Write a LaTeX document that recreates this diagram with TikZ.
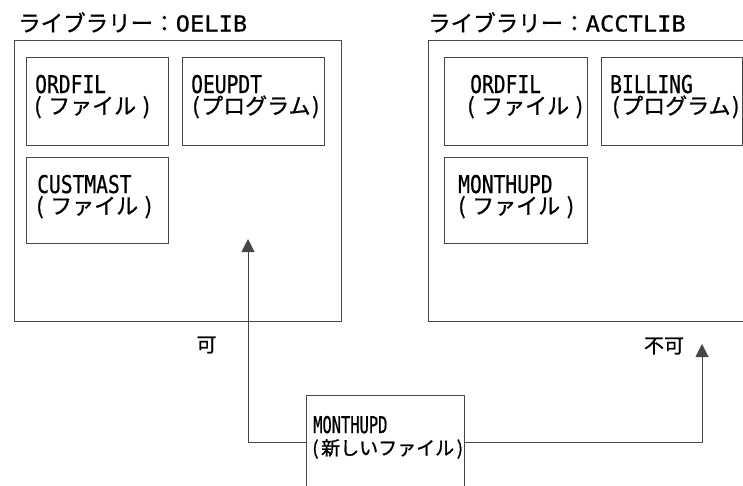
\documentclass[tikz,border=0pt]{standalone}
\usepackage{fontspec}
\usetikzlibrary{arrows.meta}
% Japanese text and narrow monospaced Latin faces
\newfontfamily\jpfont[FakeBold=1]{Noto Sans CJK JP}
\newfontfamily\boxlat[FakeStretch=0.8,FakeBold=0.6]{DejaVu Sans Mono}
\newfontfamily\botlat[FakeStretch=0.67,FakeBold=0.6]{DejaVu Sans Mono}
\newfontfamily\ttllat[FakeStretch=1.08,FakeBold=0.6]{DejaVu Sans Mono}
% parenthesised Japanese line: paren cells of width #1 around #2
\newcommand\kakko[2]{\makebox[#1][l]{(}#2\makebox[#1][r]{)}}
\newcommand\jpsz[1]{\jpfont\fontsize{#1}{#1}\selectfont}
\newcommand\latsz{\boxlat\fontsize{24.5pt}{26pt}\selectfont}
% two-line object label: first line #1, second line #4 set #3 lower and shifted by #2
\newcommand\twoline[4]{\rlap{\hspace{#2}\raisebox{-#3}[0pt][0pt]{#4}}#1}

\begin{document}
\begin{tikzpicture}[x=1pt,y=-1pt,
  frame/.style={draw=black!72, line width=1pt, anchor=north west,
    inner sep=0pt, outer sep=0pt},
  lbl/.style={anchor=base west, inner sep=0pt, text=black},
  conn/.style={draw=black!72, line width=1pt},
  tip/.style={-{Triangle[width=13pt,length=13pt]}}]
\useasboundingbox (0,0) rectangle (743,485);
\clip (0,0) rectangle (743,485);

% library titles
\node[lbl] (titleL) at (18,31.5) {\jpsz{22.5pt}ライブラリー：\ttllat\fontsize{22pt}{24pt}\selectfont OELIB};
\node[lbl] (titleR) at (428,31.5) {\jpsz{22.5pt}ライブラリー：\ttllat\fontsize{22pt}{24pt}\selectfont ACCTLIB};

% library frames
\node[frame, minimum width=327pt, minimum height=281pt] (libL) at (14,40) {};
\node[frame, minimum width=340pt, minimum height=281pt] (libR) at (428,40) {};

% objects in OELIB
\node[frame, minimum width=142pt, minimum height=87.5pt] (ordL) at (26,57.5) {};
\node[frame, minimum width=142pt, minimum height=87.5pt] (oeupdt) at (182,57.5) {};
\node[frame, minimum width=142pt, minimum height=86pt] (custL) at (26,157) {};

\node[lbl] (ordLt) at ([shift={(9,35.5)}]ordL.north west)
  {\twoline{\latsz ORDFIL}{-1pt}{21pt}{\jpsz{22pt}\kakko{14pt}{ファイル}}};
\node[lbl] (oeupdtt) at ([shift={(9,35.5)}]oeupdt.north west)
  {\twoline{\latsz OEUPDT}{1pt}{21pt}{\jpsz{22pt}\kakko{9pt}{プログラム}}};
\node[lbl] (custLt) at ([shift={(11,36)}]custL.north west)
  {\twoline{\latsz CUSTMAST}{-1pt}{21pt}{\jpsz{22pt}\kakko{14pt}{ファイル}}};

% objects in ACCTLIB
\node[frame, minimum width=143pt, minimum height=87.5pt] (ordR) at (444,57.5) {};
\node[frame, minimum width=141.5pt, minimum height=87.5pt] (billing) at (601,57.5) {};
\node[frame, minimum width=143pt, minimum height=86pt] (monR) at (444,157) {};

\node[lbl] (ordRt) at ([shift={(26,35.5)}]ordR.north west)
  {\twoline{\latsz ORDFIL}{-3pt}{21pt}{\jpsz{22pt}\kakko{14pt}{ファイル}}};
\node[lbl] (billingt) at ([shift={(9,35.5)}]billing.north west)
  {\twoline{\latsz BILLING}{2pt}{21pt}{\jpsz{22pt}\kakko{9pt}{プログラム}}};
\node[lbl] (monRt) at ([shift={(14,36)}]monR.north west)
  {\twoline{\latsz MONTHUPD}{0pt}{21pt}{\jpsz{22pt}\kakko{14pt}{ファイル}}};

% the new file
\node[frame, minimum width=158pt, minimum height=120pt] (newf) at (306,395) {};
\node[lbl] (newft) at ([shift={(7,38)}]newf.north west)
  {\twoline{\botlat\fontsize{23pt}{24pt}\selectfont MONTHUPD}{-1pt}{22pt}{\jpsz{19pt}\kakko{9pt}{新しいファイル}}};

% connectors
\coordinate (jl) at ([shift={(0,47)}]newf.north west);
\coordinate (jr) at ([shift={(0,47)}]newf.north east);
\coordinate (arrL) at (248,239);
\coordinate (arrR) at (702,344);
\draw[conn, tip] (jl) -| (arrL);
\draw[conn, tip] (jr) -| (arrR);

% labels
\node[inner sep=0pt, text=black] (ok) at (206.5,345) {\jpsz{20pt}可};
\node[inner sep=0pt, text=black] (ng) at (664,346) {\jpsz{20pt}不可};
\end{tikzpicture}
\end{document}
